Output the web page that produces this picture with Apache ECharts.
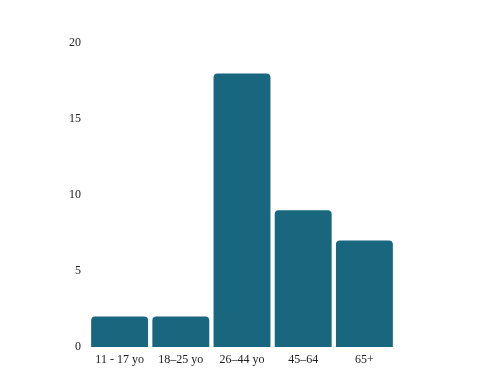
<!DOCTYPE html>
<html>
<head>
<meta charset="utf-8">
<script src="https://cdn.jsdelivr.net/npm/echarts@6/dist/echarts.min.js"></script>
<style>html,body{margin:0;padding:0;background:#fff;}#c{width:480px;height:390px;}</style>
</head>
<body>
<div id="c"></div>
<script>
const categories = ['11 - 17 yo', '18–25 yo', '26–44 yo', '45–64', '65+'];
const values = [2, 2, 18, 9, 7];
const yTicks = [0, 5, 10, 15, 20];

const chart = echarts.init(document.getElementById('c'), null, {renderer: 'canvas'});
chart.setOption({
  animation: false,
  backgroundColor: '#ffffff',
  grid: {left: 89, right: 85, top: 43, bottom: 43, containLabel: false},
  xAxis: {
    type: 'category',
    data: categories,
    axisLine: {show: false},
    axisTick: {show: false},
    axisLabel: {color: '#222', fontFamily: 'Liberation Serif', fontSize: 12, margin: 7, interval: 0}
  },
  yAxis: {
    type: 'value',
    min: 0, max: 20, interval: 5,
    splitLine: {show: false},
    axisLine: {show: false},
    axisTick: {show: false},
    axisLabel: {color: '#222', fontFamily: 'Liberation Serif', fontSize: 12, margin: 8,
      formatter: v => yTicks.includes(v) ? String(v) : ''}
  },
  series: [{
    type: 'bar',
    data: values,
    barCategoryGap: '7%',
    itemStyle: {color: '#19667f', borderRadius: [4, 4, 0, 0]}
  }]
});
</script>
</body>
</html>
